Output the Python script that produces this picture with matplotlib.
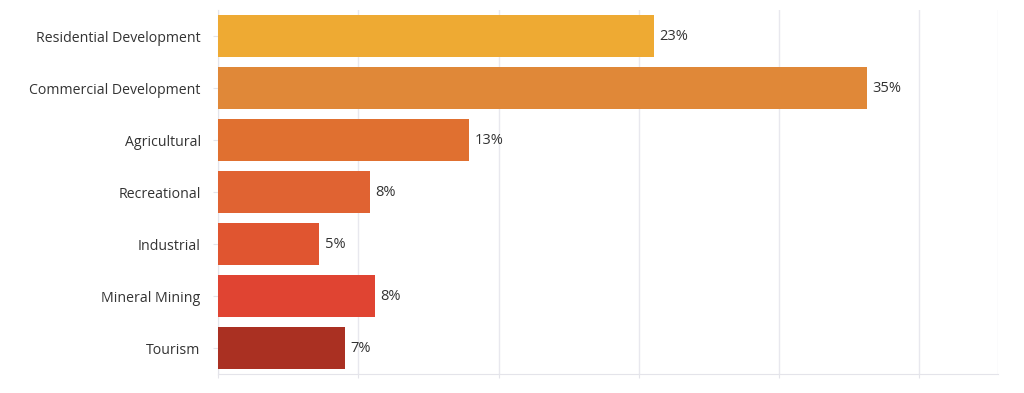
import numpy as np
import matplotlib
matplotlib.use("Agg")
import matplotlib.pyplot as plt

# land use shares (percent)
categories = ["Residential Development", "Commercial Development", "Agricultural",
              "Recreational", "Industrial", "Mineral Mining", "Tourism"]
shares = [23.3, 34.7, 13.4, 8.1, 5.4, 8.4, 6.8]
colors = ["#EEAA33", "#E08838", "#E07030", "#E06332", "#E05530", "#E04432", "#AA3022"]
grid_ticks = [0, 7.5, 15, 22.5, 30, 37.5]

plt.rcParams['font.family'] = ['Open Sans', 'DejaVu Sans']

fig = plt.figure(figsize=(10.24, 3.93), dpi=100)
ax = fig.add_axes([218/1024, 1 - 374/393, 780/1024, 364/393])

y = np.arange(len(categories))
bars = ax.barh(y, shares, height=0.79, color=colors, zorder=3)

for b, v in zip(bars, shares):
    ax.text(b.get_width() + 0.3, b.get_y() + b.get_height()/2, f"{round(v)}%",
            va="center", ha="left", fontsize=10.5, color="#333333")

ax.set_yticks(y)
ax.set_yticklabels(categories, fontsize=10.2, color="#333333")
ax.set_ylim(6.5, -0.5)
ax.set_xlim(0, 41.7)
ax.set_xticks(grid_ticks)
ax.set_xticklabels([])
ax.grid(axis="x", color="#e8e8ee", linewidth=1, zorder=0)

for s in ["top", "right"]:
    ax.spines[s].set_visible(False)
ax.spines["left"].set_color("#e4e4ea")
ax.spines["bottom"].set_color("#e4e4ea")
ax.tick_params(axis="y", length=3.5, color="#e4e4ea", pad=9)
ax.tick_params(axis="x", length=3, color="#e4e4ea")

# faint right border
ax.axvline(41.7, color="#eeeef2", linewidth=1, zorder=0)

plt.savefig("out.png", dpi=100)
plt.close("all")
